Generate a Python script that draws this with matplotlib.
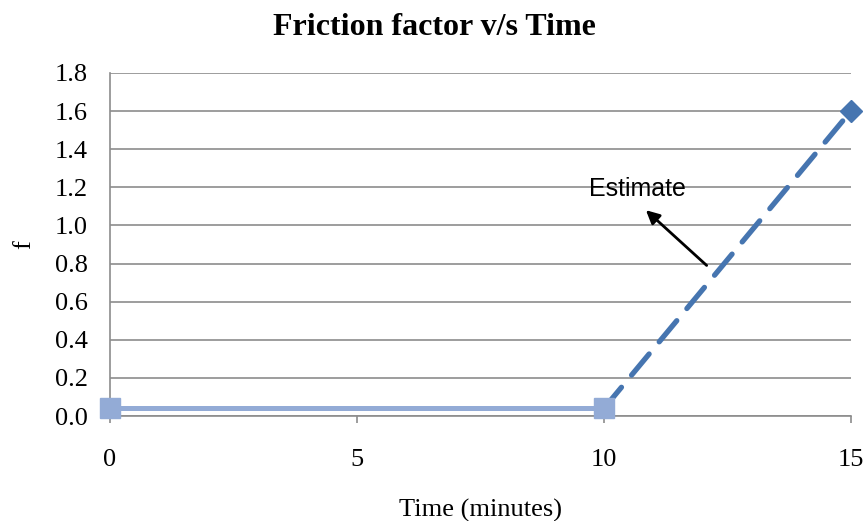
import matplotlib.pyplot as plt

# measured data
time_meas = [0, 10]
f_meas = [0.04, 0.04]

# estimated part
time_est = [10, 15]
f_est = [0.04, 1.6]

y_ticks = [0.0, 0.2, 0.4, 0.6, 0.8, 1.0, 1.2, 1.4, 1.6, 1.8]
x_ticks = [0, 5, 10, 15]

plt.rcParams['font.family'] = ['Liberation Serif', 'DejaVu Serif']

fig = plt.figure(figsize=(8.68, 5.21), dpi=100)
ax = fig.add_axes([0.1267, 0.2015, 0.8536, 0.6585])

ax.plot(time_est, f_est, color='#4675B0', linewidth=3.8,
        linestyle=(0, (5.2, 3.0)), dash_capstyle='round')
ax.plot(time_est[-1:], f_est[-1:], color='#4675B0', marker='D',
        markersize=11, linestyle='none', clip_on=False, zorder=5)
ax.plot(time_meas, f_meas, color='#93ABD6', linewidth=3.6,
        marker='s', markersize=14, clip_on=False, zorder=4)

ax.text(10.68, 1.19, 'Estimate', fontsize=18,
        family=['Liberation Sans', 'DejaVu Sans'],
        ha='center', va='center', zorder=6)
ax.annotate('', xy=(10.85, 1.08), xytext=(12.08, 0.79),
            arrowprops=dict(arrowstyle='-|>', color='black', lw=2,
                            shrinkA=0, shrinkB=0, mutation_scale=20),
            zorder=6)

ax.set_xlim(0, 15)
ax.set_ylim(0, 1.8)
ax.set_xticks(x_ticks)
ax.set_yticks(y_ticks)
ax.set_yticklabels(['%.1f' % v for v in y_ticks])

ax.grid(True, axis='y', color='#8C8C8C', linewidth=1.2)
ax.set_axisbelow(True)
for s in ['top', 'right']:
    ax.spines[s].set_visible(False)
for s in ['left', 'bottom']:
    ax.spines[s].set_color('#8C8C8C')
    ax.spines[s].set_linewidth(1.2)

ax.tick_params(axis='x', direction='out', length=5, width=1.2,
               color='#8C8C8C', pad=19, labelsize=19)
ax.tick_params(axis='y', length=0, pad=16, labelsize=19)

ax.set_xlabel('Time (minutes)', fontsize=19, labelpad=20)
ax.set_ylabel('f', fontsize=19, labelpad=14)
fig.suptitle('Friction factor v/s Time', fontsize=23, fontweight='bold', y=0.975)

fig.savefig('out.png', dpi=100)
